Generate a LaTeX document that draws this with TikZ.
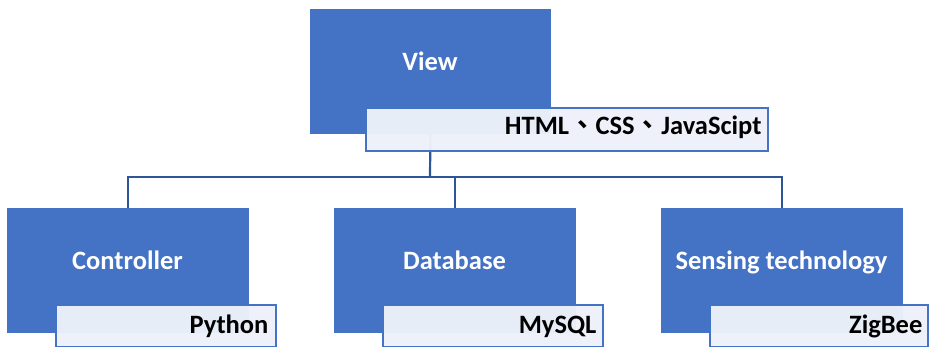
\documentclass[tikz,border=0pt]{standalone}
\usepackage{fontspec}
\setmainfont{Carlito}
\newfontfamily\cjk{Noto Sans CJK TC}[BoldFont=* Bold]
\definecolor{boxblue}{HTML}{4472C4}
\definecolor{linkblue}{HTML}{2F5597}
\definecolor{labfill}{HTML}{EDF1F9}
\begin{document}
\begin{tikzpicture}[x=1pt,y=-1pt,
  bluebox/.style={draw=boxblue,fill=boxblue,line width=0.8pt,rectangle,anchor=north west,inner sep=0pt},
  bluetext/.style={text=white,font=\fontsize{26.5}{30}\selectfont\bfseries,inner sep=0pt,anchor=base},
  labbox/.style={draw=boxblue,fill=labfill,fill opacity=0.97,line width=1.6pt,rectangle,anchor=north west,inner sep=0pt},
  labtext/.style={text=black,font=\fontsize{26.5}{30}\selectfont\bfseries,inner sep=0pt,anchor=base east},
  link/.style={draw=linkblue,line width=2.2pt}]
\useasboundingbox (0,0) rectangle (929,346);
% top
\node[bluebox,minimum width=240pt,minimum height=124pt] (view) at (310,9) {};
\node[bluetext] (viewt) at (430,70) {View};
% bottom boxes
\node[bluebox,minimum width=241pt,minimum height=124pt] (ctrl) at (7,208) {};
\node[bluetext] (ctrlt) at (127.5,269) {Controller};
\node[bluebox,minimum width=241pt,minimum height=124pt] (db) at (334,208) {};
\node[bluetext] (dbt) at (454.5,269) {Database};
\node[bluebox,minimum width=241pt,minimum height=124pt] (sens) at (661,208) {};
\node[bluetext] (senst) at (781.5,269) {Sensing technology};
% connectors
\coordinate (hub) at (430,177);
\draw[link] (view.south) -- (hub);
\draw[link] (ctrl.north) |- (hub) -| (sens.north);
\draw[link] (db.north) -- (db.north |- hub);
% label boxes
\node[labbox,minimum width=402pt,minimum height=43pt] (html) at (365,107) {};
\node[labtext] (htmlt) at ([xshift=-7pt]html.east |- 0,134) {HTML{\cjk\bfseries 、}CSS{\cjk\bfseries 、}JavaScipt};
\node[labbox,minimum width=220pt,minimum height=42pt] (py) at (55,304) {};
\node[labtext] (pyt) at ([xshift=-8pt]py.east |- 0,333) {Python};
\node[labbox,minimum width=220pt,minimum height=42pt] (my) at (382,304) {};
\node[labtext] (myt) at ([xshift=-7pt]my.east |- 0,333) {MySQL};
\node[labbox,minimum width=218pt,minimum height=42pt] (zb) at (709,304) {};
\node[labtext] (zbt) at ([xshift=-6pt]zb.east |- 0,333) {ZigBee};
\end{tikzpicture}
\end{document}
